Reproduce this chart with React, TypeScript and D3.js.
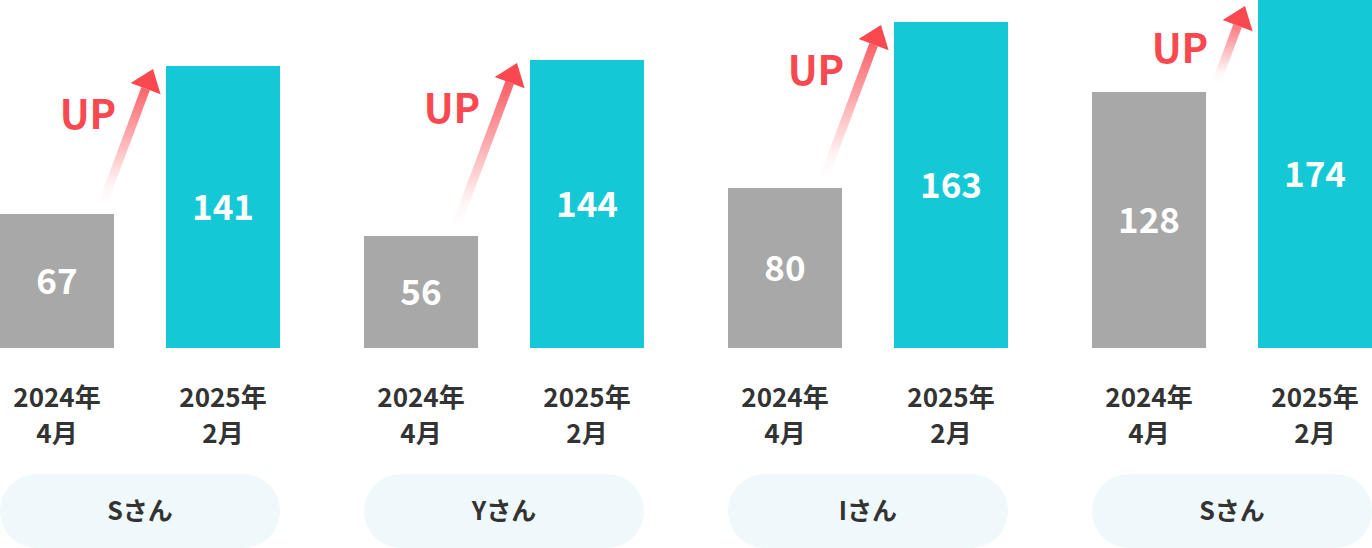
import React from "react";
import * as d3 from "d3";

// People and their before/after scores
const people = ["Sさん", "Yさん", "Iさん", "Sさん"];
const periods = ["2024年4月", "2025年2月"];
const periodLines = [
  ["2024年", "4月"],
  ["2025年", "2月"],
];
const before = [67, 56, 80, 128];
const after = [141, 144, 163, 174];

const W = 1372;
const H = 548;
const baseY = 348;
const GRAY = "#a8a8a8";
const TEAL = "#14c9d5";
const RED = "#f9484f";
const INK = "#333333";
const PILL = "#eff8fa";
const FONT = "'Noto Sans CJK JP', 'Noto Sans', sans-serif";

export default function App() {
  const groupIdx = people.map((_, i) => String(i));
  const x0 = d3
    .scaleBand<string>()
    .domain(groupIdx)
    .range([0, W])
    .paddingInner(84 / 364)
    .paddingOuter(0);
  const x1 = d3
    .scaleBand<string>()
    .domain(periods)
    .range([0, x0.bandwidth()])
    .paddingInner(52 / 166)
    .paddingOuter(0);
  const y = d3.scaleLinear().domain([0, 174]).range([baseY, 0]);

  const bw = x1.bandwidth();
  const angle = (20.5 * Math.PI) / 180;

  return (
    <svg
      width={W}
      height={H}
      style={{ position: "absolute", left: 0, top: 0, display: "block" }}
      fontFamily={FONT}
    >
      <defs>
        {people.map((_, i) => {
          const tipY = Math.max(y(after[i]) + 3, 6);
          const tailY = y(before[i]) - 8;
          return (
            <linearGradient
              key={i}
              id={`arrowGrad${i}`}
              gradientUnits="userSpaceOnUse"
              x1={0}
              y1={tailY}
              x2={0}
              y2={tipY}
            >
              <stop offset="0" stopColor={RED} stopOpacity={0} />
              <stop offset="0.15" stopColor={RED} stopOpacity={0.05} />
              <stop offset="1" stopColor={RED} stopOpacity={1} />
            </linearGradient>
          );
        })}
      </defs>
      {people.map((name, i) => {
        const gx = x0(String(i)) as number;
        const vals = [before[i], after[i]];
        const tipX = gx + 153;
        const tipY = Math.max(y(after[i]) + 3, 6);
        const tailY = y(before[i]) - 8;
        const ux = Math.sin(angle);
        const uy = -Math.cos(angle);
        const len = (tailY - tipY) / Math.cos(angle);
        const tailX = tipX - ux * len;
        const headLen = 21;
        const headHalf = 16;
        const shaftHalf = 4.5;
        const px = -uy;
        const py = ux;
        const hbX = tipX - ux * headLen;
        const hbY = tipY - uy * headLen;
        const shaft = [
          [tailX + px * shaftHalf, tailY + py * shaftHalf],
          [hbX + px * shaftHalf, hbY + py * shaftHalf],
          [hbX - px * shaftHalf, hbY - py * shaftHalf],
          [tailX - px * shaftHalf, tailY - py * shaftHalf],
        ];
        const head = [
          [tipX, tipY],
          [hbX + px * headHalf, hbY + py * headHalf],
          [hbX - px * headHalf, hbY - py * headHalf],
        ];
        const line = d3.line();
        return (
          <g key={i}>
            {vals.map((v, j) => {
              const bx = gx + (x1(periods[j]) as number);
              const top = y(v);
              return (
                <g key={j}>
                  <rect
                    x={bx}
                    y={top}
                    width={bw}
                    height={baseY - top}
                    fill={j === 0 ? GRAY : TEAL}
                  />
                  <text
                    x={bx + bw / 2}
                    y={(top + baseY) / 2}
                    dy="0.36em"
                    textAnchor="middle"
                    fill="#ffffff"
                    fontSize={35}
                    fontWeight={700}
                  >
                    {v}
                  </text>
                  {periodLines[j].map((t, k) => (
                    <text
                      key={k}
                      x={bx + bw / 2}
                      y={398 + k * 36}
                      dy="0.36em"
                      textAnchor="middle"
                      fill={INK}
                      fontSize={26}
                      fontWeight={700}
                    >
                      {t}
                    </text>
                  ))}
                </g>
              );
            })}
            <path d={line(shaft as [number, number][]) + "Z"} fill={`url(#arrowGrad${i})`} />
            <path d={line(head as [number, number][]) + "Z"} fill={RED} />
            <text
              x={gx + 88}
              y={y(after[i]) + 49}
              dy="0.36em"
              textAnchor="middle"
              fill={RED}
              fontSize={40}
              fontWeight={700}
            >
              UP
            </text>
            <rect
              x={gx}
              y={474}
              width={x0.bandwidth()}
              height={74}
              rx={37}
              fill={PILL}
            />
            <text
              x={gx + x0.bandwidth() / 2}
              y={511}
              dy="0.36em"
              textAnchor="middle"
              fill={INK}
              fontSize={25}
              fontWeight={700}
            >
              {name}
            </text>
          </g>
        );
      })}
    </svg>
  );
}
